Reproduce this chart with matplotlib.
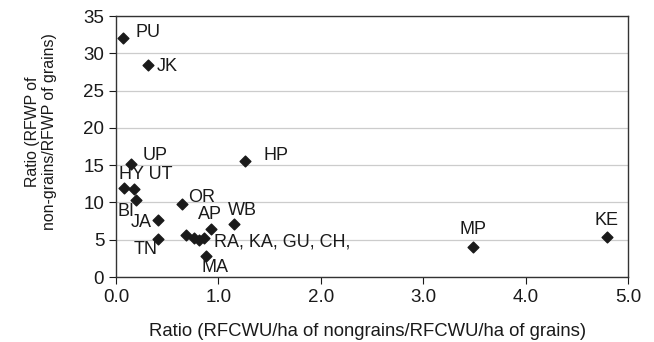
import matplotlib
matplotlib.use('Agg')
import matplotlib.pyplot as plt
from matplotlib.ticker import FormatStrFormatter

plt.rcParams['font.family'] = ['Liberation Sans', 'DejaVu Sans']

# data
x_vals = [0.065, 0.31, 0.15, 1.26, 0.08, 0.18, 0.20, 0.64, 0.41, 0.41,
          1.15, 0.93, 0.68, 0.76, 0.81, 0.86, 0.88, 3.49, 4.80]
y_vals = [32.0, 28.4, 15.2, 15.5, 11.9, 11.75, 10.3, 9.8, 7.6, 5.05,
          7.06, 6.4, 5.6, 5.27, 4.96, 5.3, 2.86, 4.06, 5.4]

labels = ['PU', 'JK', 'UP', 'HP', 'HY UT', 'BI', 'OR', 'JA', 'TN',
          'AP', 'WB', 'RA, KA, GU, CH,', 'MA', 'MP', 'KE']
label_x = [0.195, 0.40, 0.26, 1.44, 0.03, 0.015, 0.70, 0.14, 0.17,
           0.80, 1.09, 0.96, 0.83, 3.49, 4.79]
label_y = [32.8, 28.3, 16.35, 16.35, 13.7, 8.75, 10.7, 7.3, 3.75,
           8.4, 8.9, 4.65, 1.34, 6.4, 7.55]
label_ha = ['left'] * 13 + ['center', 'center']

fig = plt.figure(figsize=(6.54, 3.42), dpi=100)
ax = fig.add_axes([0.1774, 0.190, 0.7828, 0.763])

ax.scatter(x_vals, y_vals, marker='D', s=30, color='#1a1a1a', zorder=3)

for t, lx, ly, ha in zip(labels, label_x, label_y, label_ha):
    ax.text(lx, ly, t, ha=ha, va='center', fontsize=13, color='#1a1a1a')

ax.set_xlim(0, 5)
ax.set_ylim(0, 35)
ax.set_xticks([0, 1, 2, 3, 4, 5])
ax.set_yticks(range(0, 36, 5))
ax.xaxis.set_major_formatter(FormatStrFormatter('%.1f'))
ax.yaxis.grid(True, color='#cccccc', linewidth=0.9)
ax.set_axisbelow(True)
ax.tick_params(direction='out', labelsize=13.5, colors='#1a1a1a', length=5)
for s in ax.spines.values():
    s.set_color('#333333')
    s.set_linewidth(1.0)

ax.set_xlabel('Ratio (RFCWU/ha of nongrains/RFCWU/ha of grains)', fontsize=13.3,
              color='#1a1a1a')
ax.xaxis.set_label_coords(0.492, -0.176)
ax.set_ylabel('Ratio (RFWP of\nnon-grains/RFWP of grains)', fontsize=11.4,
              color='#1a1a1a', linespacing=1.15, multialignment='center')
ax.yaxis.set_label_coords(-0.115, 0.556)

fig.savefig('out.png', dpi=100)
